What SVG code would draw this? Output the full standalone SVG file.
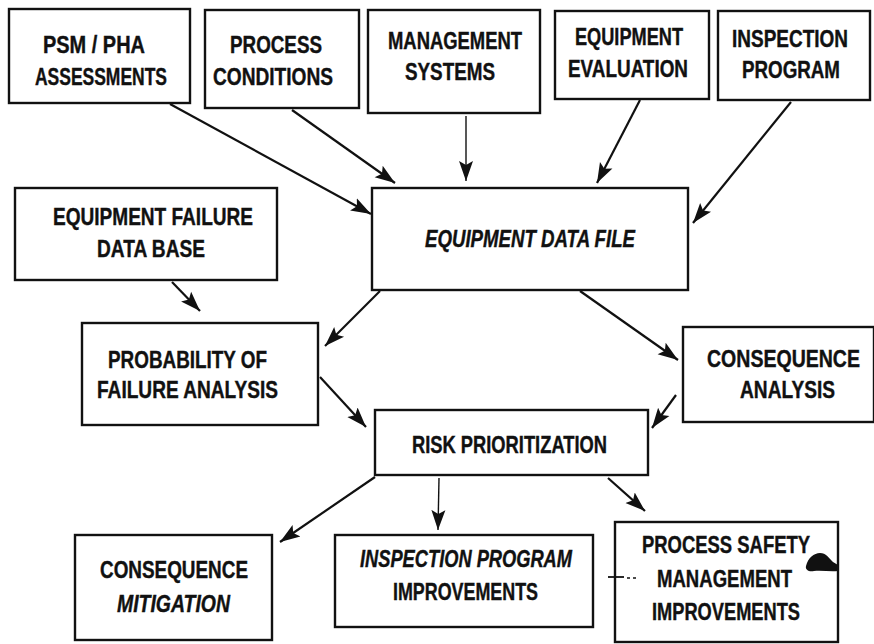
<svg xmlns="http://www.w3.org/2000/svg" width="874" height="644" viewBox="0 0 874 644">
  <defs>
    <style>
      .box { fill: #ffffff; stroke: #111111; stroke-width: 2.4; }
      .lbl { font-family: "Liberation Sans", Arial, sans-serif; font-weight: bold; font-size: 24px; fill: #111111; stroke: #111111; stroke-width: 0.4; }
      .it { font-style: italic; }
      .edge { stroke: #111111; stroke-width: 2.2; fill: none; marker-end: url(#head); }
      .thin { stroke-width: 1.4; }
    </style>
    <marker id="head" markerUnits="userSpaceOnUse" markerWidth="22" markerHeight="16" refX="20" refY="8" orient="auto">
      <path d="M0,1 L20,8 L0,15 L4,8 Z" fill="#111111"/>
    </marker>
  </defs>
  <rect width="874" height="644" fill="#ffffff"/>

  <!-- connectors -->
  <g id="connectors">
    <line class="edge" x1="170" y1="104" x2="371" y2="214"/>
    <line class="edge" x1="292" y1="110" x2="395" y2="183"/>
    <line class="edge thin" x1="466" y1="116" x2="466" y2="181"/>
    <line class="edge" x1="640" y1="100" x2="597" y2="183"/>
    <line class="edge" x1="791" y1="102" x2="693" y2="223"/>
    <line class="edge" x1="172" y1="282" x2="200" y2="311"/>
    <line class="edge" x1="380" y1="291" x2="325" y2="346"/>
    <line class="edge" x1="580" y1="291" x2="678" y2="360"/>
    <line class="edge" x1="320" y1="377" x2="366" y2="427"/>
    <line class="edge" x1="676" y1="395" x2="652" y2="428"/>
    <line class="edge" x1="375" y1="477" x2="280" y2="542"/>
    <line class="edge thin" x1="439" y1="478" x2="438" y2="530"/>
    <line class="edge" x1="608" y1="478" x2="645" y2="511"/>
  </g>

  <g id="psm-pha">
    <rect class="box" x="9" y="9" width="181" height="94"/>
    <text class="lbl" x="43" y="53" textLength="102" lengthAdjust="spacingAndGlyphs">PSM / PHA</text>
    <text class="lbl" x="35" y="85" textLength="132" lengthAdjust="spacingAndGlyphs">ASSESSMENTS</text>
  </g>

  <g id="process-conditions">
    <rect class="box" x="205" y="10" width="154" height="98"/>
    <text class="lbl" x="230" y="53" textLength="92" lengthAdjust="spacingAndGlyphs">PROCESS</text>
    <text class="lbl" x="213" y="85" textLength="120" lengthAdjust="spacingAndGlyphs">CONDITIONS</text>
  </g>

  <g id="management-systems">
    <rect class="box" x="368" y="10" width="172" height="103"/>
    <text class="lbl" x="388" y="49" textLength="134" lengthAdjust="spacingAndGlyphs">MANAGEMENT</text>
    <text class="lbl" x="405" y="80" textLength="90" lengthAdjust="spacingAndGlyphs">SYSTEMS</text>
  </g>

  <g id="equipment-evaluation">
    <rect class="box" x="555" y="11" width="154" height="88"/>
    <text class="lbl" x="575" y="45" textLength="108" lengthAdjust="spacingAndGlyphs">EQUIPMENT</text>
    <text class="lbl" x="568" y="77" textLength="120" lengthAdjust="spacingAndGlyphs">EVALUATION</text>
  </g>

  <g id="inspection-program">
    <rect class="box" x="718" y="11" width="152" height="89"/>
    <text class="lbl" x="732" y="47" textLength="116" lengthAdjust="spacingAndGlyphs">INSPECTION</text>
    <text class="lbl" x="742" y="78" textLength="98" lengthAdjust="spacingAndGlyphs">PROGRAM</text>
  </g>

  <g id="equipment-failure-data-base">
    <rect class="box" x="15" y="188" width="262" height="92"/>
    <text class="lbl" x="53" y="225" textLength="200" lengthAdjust="spacingAndGlyphs">EQUIPMENT FAILURE</text>
    <text class="lbl" x="97" y="257" textLength="108" lengthAdjust="spacingAndGlyphs">DATA BASE</text>
  </g>

  <g id="equipment-data-file">
    <rect class="box" x="372" y="188" width="316" height="102"/>
    <text class="lbl it" x="425" y="247" textLength="210" lengthAdjust="spacingAndGlyphs">EQUIPMENT DATA FILE</text>
  </g>

  <g id="probability-of-failure">
    <rect class="box" x="82" y="323" width="236" height="102"/>
    <text class="lbl" x="108" y="368" textLength="159" lengthAdjust="spacingAndGlyphs">PROBABILITY OF</text>
    <text class="lbl" x="97" y="398" textLength="181" lengthAdjust="spacingAndGlyphs">FAILURE ANALYSIS</text>
  </g>

  <g id="consequence-analysis">
    <rect class="box" x="683" y="327" width="191" height="95"/>
    <text class="lbl" x="707" y="367" textLength="153" lengthAdjust="spacingAndGlyphs">CONSEQUENCE</text>
    <text class="lbl" x="740" y="398" textLength="95" lengthAdjust="spacingAndGlyphs">ANALYSIS</text>
  </g>

  <g id="risk-prioritization">
    <rect class="box" x="375" y="410" width="273" height="65"/>
    <text class="lbl" x="412" y="453" textLength="195" lengthAdjust="spacingAndGlyphs">RISK PRIORITIZATION</text>
  </g>

  <g id="consequence-mitigation">
    <rect class="box" x="75" y="535" width="197" height="105"/>
    <text class="lbl" x="100" y="578" textLength="148" lengthAdjust="spacingAndGlyphs">CONSEQUENCE</text>
    <text class="lbl it" x="117" y="612" textLength="113" lengthAdjust="spacingAndGlyphs">MITIGATION</text>
  </g>

  <g id="inspection-program-improvements">
    <rect class="box" x="335" y="535" width="258" height="92"/>
    <text class="lbl it" x="360" y="567" textLength="212" lengthAdjust="spacingAndGlyphs">INSPECTION PROGRAM</text>
    <text class="lbl" x="393" y="600" textLength="145" lengthAdjust="spacingAndGlyphs">IMPROVEMENTS</text>
  </g>

  <g id="process-safety-management-improvements">
    <rect class="box" x="615" y="522" width="223" height="120"/>
    <line x1="608" y1="577" x2="624" y2="577" stroke="#111111" stroke-width="1.8"/>
    <line x1="627" y1="578" x2="637" y2="578" stroke="#111111" stroke-width="1.4" stroke-dasharray="3 3"/>
    <path d="M806,566 C808,558 814,553 820,553 C826,553 829,558 833,562 L838,565 L838,571 C830,572 822,570 814,571 C809,572 805,570 806,566 Z" fill="#111111"/>
    <text class="lbl" x="642" y="553" textLength="168" lengthAdjust="spacingAndGlyphs">PROCESS SAFETY</text>
    <text class="lbl" x="657" y="587" textLength="135" lengthAdjust="spacingAndGlyphs">MANAGEMENT</text>
    <text class="lbl" x="652" y="620" textLength="148" lengthAdjust="spacingAndGlyphs">IMPROVEMENTS</text>
  </g>
</svg>
